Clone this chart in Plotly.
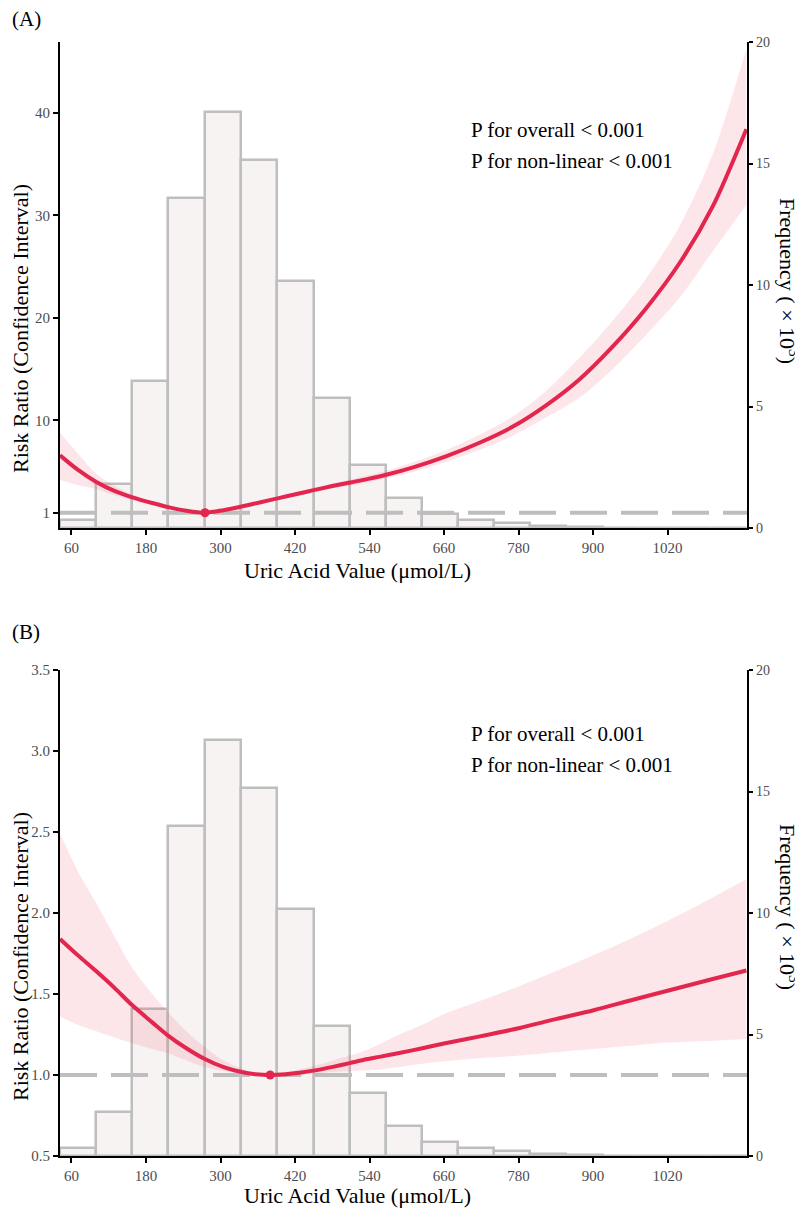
import numpy as np
import plotly.graph_objects as go

# histogram of uric acid values (same sample in both panels), counts in thousands
BIN_EDGES = [41.5, 99.8, 158, 216, 275, 333, 391, 450, 508, 566, 624,
             683, 741, 799, 857, 916, 974, 1032, 1090, 1148]
FREQ_K = [0.33, 1.8, 6.06, 13.57, 17.13, 15.15, 10.18, 5.36, 2.6, 1.23,
          0.58, 0.33, 0.19, 0.1, 0.03, 0.015, 0.01, 0.005, 0.005]

X_TICKS = [60, 180, 300, 420, 540, 660, 780, 900, 1020]
FREQ_TICKS = [0, 5, 10, 15, 20]

# panel A: risk ratio spline with 95% CI
UA_A = [41.5, 70, 100, 130, 158, 190, 216, 245, 275, 305, 334, 363, 392, 421, 450,
        480, 509, 538, 567, 609, 663, 720, 771, 825, 878, 930, 985, 1040, 1093, 1147]
RR_A = [6.6, 5.2, 4.0, 3.1, 2.5, 1.95, 1.55, 1.2, 1.0, 1.25, 1.6, 2.0, 2.4, 2.8, 3.2,
        3.6, 3.95, 4.3, 4.7, 5.4, 6.5, 7.9, 9.4, 11.5, 14.0, 17.1, 20.9, 25.4, 30.9, 38.4]
LO_A = [4.2, 3.7, 3.3, 2.7, 2.25, 1.8, 1.45, 1.15, 1.0, 1.2, 1.5, 1.88, 2.25, 2.62, 3.0,
        3.35, 3.65, 3.98, 4.35, 4.95, 5.95, 7.2, 8.5, 10.3, 12.2, 14.9, 18.3, 22.0, 26.5, 31.0]
HI_A = [8.8, 6.8, 4.8, 3.6, 2.78, 2.12, 1.65, 1.25, 1.0, 1.3, 1.7, 2.12, 2.55, 2.98, 3.4,
        3.85, 4.25, 4.65, 5.1, 5.9, 7.1, 8.7, 10.4, 12.9, 16.1, 19.6, 23.8, 29.0, 36.0, 46.2]
REF_A = 275
RR_TICKS_A = [1, 10, 20, 30, 40]

# panel B
UA_B = [41.5, 70, 100, 130, 158, 190, 215, 245, 274, 305, 334, 356, 380, 405, 427, 455,
        481, 508, 535, 556, 588, 625, 662, 720, 782, 840, 901, 960, 1020, 1085, 1147]
RR_B = [1.84, 1.74, 1.64, 1.535, 1.43, 1.325, 1.245, 1.165, 1.1, 1.048, 1.018, 1.005, 1.0,
        1.005, 1.014, 1.03, 1.05, 1.073, 1.097, 1.112, 1.136, 1.165, 1.196, 1.24, 1.29,
        1.345, 1.4, 1.46, 1.52, 1.585, 1.645]
LO_B = [1.36, 1.31, 1.27, 1.23, 1.196, 1.16, 1.134, 1.09, 1.05, 1.025, 1.01, 1.003, 1.0,
        1.0, 1.003, 1.01, 1.018, 1.025, 1.03, 1.035, 1.05, 1.07, 1.085, 1.105, 1.12,
        1.14, 1.16, 1.18, 1.2, 1.21, 1.222]
HI_B = [2.49, 2.26, 2.06, 1.85, 1.66, 1.5, 1.39, 1.27, 1.175, 1.09, 1.04, 1.01, 1.0,
        1.015, 1.035, 1.06, 1.09, 1.12, 1.155, 1.19, 1.25, 1.31, 1.38, 1.46, 1.55,
        1.64, 1.74, 1.84, 1.95, 2.08, 2.21]
REF_B = 380
RR_TICKS_B = [0.5, 1.0, 1.5, 2.0, 2.5, 3.0, 3.5]

P_TEXT = ["P for overall < 0.001", "P for non-linear < 0.001"]

RED = "#E2264D"
BAND = "rgba(238, 80, 100, 0.14)"
GREY = "#BEBEBE"
FONT = "Liberation Serif, 'Times New Roman', Times, serif"

# the page body has an 8px margin, so the figure is drawn 8px in from the window corner
PAGE_W, PAGE_H, BODY = 803, 1209, 8
W, H = PAGE_W - BODY, PAGE_H - BODY
# plot box in window pixels: left 60, right 746.7, top 42 (panel A), bottom 1156 (panel B)
ML, MR, MT, MB = 60 - BODY, 56, 42 - BODY, 53


def px_x(px):
    return (px - BODY - ML) / (W - ML - MR)


def px_y(py):
    return (PAGE_H - MB - py) / (H - MT - MB)


def add_panel(fig, xa, ya_freq, ya_rr, ux, rr, lo, hi, ref):
    edges = np.array(BIN_EDGES)
    fig.add_trace(go.Bar(
        x=(edges[:-1] + edges[1:]) / 2, y=FREQ_K, width=np.diff(edges),
        marker=dict(color="#F7F3F3", line=dict(color=GREY, width=2.5)),
        xaxis=xa, yaxis=ya_freq, hoverinfo="skip",
    ))
    fig.add_trace(go.Scatter(
        x=[BIN_EDGES[0], BIN_EDGES[-1]], y=[1, 1], mode="lines",
        line=dict(color=GREY, width=4, dash="37px,14px"),
        xaxis=xa, yaxis=ya_rr, hoverinfo="skip",
    ))
    fig.add_trace(go.Scatter(
        x=ux, y=lo, mode="lines", line=dict(width=0, shape="spline", smoothing=0.8),
        xaxis=xa, yaxis=ya_rr, hoverinfo="skip",
    ))
    fig.add_trace(go.Scatter(
        x=ux, y=hi, mode="lines", line=dict(width=0, shape="spline", smoothing=0.8),
        fill="tonexty", fillcolor=BAND, xaxis=xa, yaxis=ya_rr, hoverinfo="skip",
    ))
    fig.add_trace(go.Scatter(
        x=ux, y=rr, mode="lines",
        line=dict(color=RED, width=4, shape="spline", smoothing=0.8),
        xaxis=xa, yaxis=ya_rr,
    ))
    fig.add_trace(go.Scatter(
        x=[ref], y=[1.0], mode="markers", marker=dict(color=RED, size=9),
        xaxis=xa, yaxis=ya_rr,
    ))


def axis_style(**kw):
    base = dict(
        showline=True, linecolor="black", linewidth=2.2, mirror=False,
        ticks="outside", ticklen=5, tickwidth=1.5, tickcolor="black",
        showgrid=False, zeroline=False,
        tickfont=dict(family=FONT, size=15, color="#4D4D4D"),
    )
    base.update(kw)
    return base


def make_figure():
    fig = go.Figure()
    add_panel(fig, "x", "y", "y2", UA_A, RR_A, LO_A, HI_A, REF_A)
    add_panel(fig, "x2", "y3", "y4", UA_B, RR_B, LO_B, HI_B, REF_B)

    top_dom = [px_y(528), 1]
    bot_dom = [0, px_y(670)]
    xr = [BIN_EDGES[0], BIN_EDGES[-1]]
    small = dict(family=FONT, size=14, color="#4D4D4D")

    fig.update_layout(
        width=W, height=H, margin=dict(l=ML, r=MR, t=MT, b=MB),
        paper_bgcolor="white", plot_bgcolor="white",
        showlegend=False, bargap=0,
        font=dict(family=FONT, color="black"),
        xaxis=axis_style(domain=[0, 1], anchor="y", range=xr, tickvals=X_TICKS),
        yaxis=axis_style(domain=top_dom, anchor="x", side="right", range=[0, 20],
                         tickvals=FREQ_TICKS, ticklen=4, tickfont=small),
        yaxis2=axis_style(overlaying="y", anchor="x", side="left",
                          range=[-0.49, 46.9], tickvals=RR_TICKS_A),
        xaxis2=axis_style(domain=[0, 1], anchor="y3", range=xr, tickvals=X_TICKS),
        yaxis3=axis_style(domain=bot_dom, anchor="x2", side="right", range=[0, 20],
                          tickvals=FREQ_TICKS, ticklen=4, tickfont=small),
        yaxis4=axis_style(overlaying="y3", anchor="x2", side="left",
                          range=[0.5, 3.5], tickvals=RR_TICKS_B, tickformat=".1f"),
    )

    notes = []

    def note(text, px, py, size, **kw):
        notes.append(dict(text=text, x=px_x(px), y=px_y(py), xref="paper", yref="paper",
                          showarrow=False, font=dict(family=FONT, size=size, color="black"),
                          **kw))

    # positions below are window pixels (nudged off the page edge)
    for lab, py in [("(A)", 19), ("(B)", 632)]:
        note(lab, 10, py, 21, xanchor="left", yanchor="middle")
    for py in [329, 957]:
        note("Risk Ratio (Confidence Interval)", 20, py, 22, textangle=-90,
             xanchor="center", yanchor="middle")
    for py in [281, 907]:
        note("Frequency ( × 10<sup>3</sup>)", 789, py, 22, textangle=90,
             xanchor="center", yanchor="middle")
    for py in [570, 1195]:
        note("Uric Acid Value (μmol/L)", 357, py, 22, xanchor="center", yanchor="middle")
    for y1, y2 in [(130, 161), (734, 765)]:
        note(P_TEXT[0], 469, y1, 21, xanchor="left", yanchor="middle")
        note(P_TEXT[1], 469, y2, 21, xanchor="left", yanchor="middle")

    fig.update_layout(annotations=notes)
    return fig


def main():
    fig = make_figure()
    fig.write_html("out.html")


if __name__ == "__main__":
    main()
